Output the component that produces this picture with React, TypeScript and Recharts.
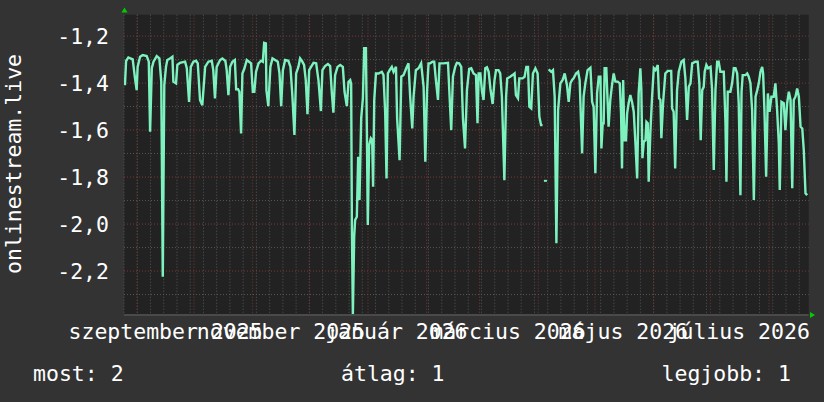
import React from "react";
import { LineChart, Line, XAxis, YAxis, CartesianGrid } from "recharts";

// days since Mon 25 Aug 2025
const days = [
  0.5, 1.1, 2.3, 4.6, 5.8, 6.7, 7.2, 8.5, 9.9, 12.0, 13.1, 13.8, 14.7, 15.6, 17.3, 18.7, 19.7, 20.5, 21.3, 22.2,
  22.9, 24.3, 25.6, 26.1, 27.5, 28.2, 29.6, 32.3, 33.2, 34.4, 35.3, 36.7, 38.1, 39.0, 40.2, 41.4, 42.9, 44.6, 46.4, 47.2,
  48.1, 49.0, 50.8, 52.0, 53.6, 54.3, 55.2, 56.1, 57.3, 58.6, 59.3, 60.3, 61.0, 61.9, 62.6, 63.7, 64.9, 66.1, 67.2, 68.1,
  68.9, 69.8, 71.1, 72.5, 73.4, 74.1, 75.0, 75.3, 76.3, 77.4, 78.5, 79.9, 81.3, 82.2, 83.1, 84.0, 85.2, 86.9, 88.0, 89.0,
  90.1, 91.0, 92.2, 93.1, 94.0, 95.2, 96.1, 97.0, 97.9, 98.9, 100.2, 101.6, 102.8, 104.1, 104.9, 106.3, 107.8, 109.0, 109.9, 110.7,
  111.6, 112.9, 114.3, 115.7, 116.6, 117.8, 118.7, 119.6, 120.1, 120.5, 121.0, 121.7, 122.2, 123.1, 123.8, 124.5, 125.4, 126.3, 127.0, 127.9,
  128.4, 128.9, 129.6, 130.5, 131.2, 131.7, 132.3, 133.2, 134.6, 136.3, 137.2, 138.1, 138.8, 139.5, 140.7, 141.6, 142.5, 143.8, 144.4, 145.7,
  146.6, 147.8, 149.2, 150.4, 151.3, 152.4, 153.1, 154.3, 155.7, 157.1, 158.4, 159.3, 160.2, 161.0, 161.9, 163.1, 164.0, 164.9, 166.0, 166.8,
  168.9, 171.3, 172.1, 173.0, 173.9, 175.1, 176.0, 177.2, 178.3, 179.2, 180.3, 181.3, 182.5, 183.6, 184.8, 186.1, 186.9, 187.5, 188.4, 189.3,
  190.1, 191.0, 191.9, 192.8, 193.7, 194.9, 195.9, 196.7, 198.0, 198.9, 199.8, 201.1, 202.0, 202.6, 204.2, 205.4, 206.5, 207.2, 208.3, 209.0,
  210.7, 211.8, 212.7, 213.6, 214.3, 215.3, 216.2, 217.5, 218.7, 219.6, 220.5, 221.3, 222.3, 222.8, 223.4, 224.5, 225.9, 226.8, 227.7, 228.6,
  229.5, 230.7, 231.9, 233.0, 234.2, 235.1, 236.0, 236.9, 237.7, 239.0, 240.1, 240.9, 242.2, 243.0, 243.9, 245.1, 246.6, 247.5, 248.3, 249.2,
  250.1, 251.0, 251.9, 252.4, 253.1, 253.6, 254.1, 255.0, 255.7, 256.2, 257.1, 258.0, 258.9, 259.8, 261.0, 262.1, 262.8, 263.3, 263.9, 264.6,
  265.4, 266.0, 266.8, 267.7, 268.6, 269.5, 270.4, 271.3, 272.1, 273.0, 273.5, 274.1, 274.8, 275.7, 276.2, 276.9, 277.4, 278.3, 279.2, 280.1,
  281.0, 282.2, 282.9, 283.6, 284.1, 285.0, 286.2, 287.5, 289.3, 289.8, 290.6, 291.4, 292.4, 293.3, 294.7, 295.9, 296.8, 297.7, 298.6, 299.5,
  300.4, 302.1, 303.3, 304.2, 304.9, 305.7, 306.5, 307.0, 307.9, 308.8, 310.1, 310.9, 311.8, 312.7, 313.6, 314.4, 315.3, 317.1, 318.0, 318.5,
  319.2, 320.6, 321.5, 322.4, 323.3, 324.2, 325.0, 325.9, 326.5, 327.1, 328.6, 329.5, 330.3, 331.2, 332.1, 333.0, 333.9, 334.8, 335.6, 336.5,
  337.4, 337.9, 338.6, 339.5, 340.4, 341.3, 342.3, 343.5, 344.4, 345.3, 346.2, 346.7, 347.6, 348.8, 349.7, 350.6, 351.5, 352.4, 353.3, 354.1,
  355.0, 355.9, 356.8, 357.7, 358.6, 359.4, 360.3, 361.2,
];

const values: (number | null)[] = [
  -1.409, -1.306, -1.291, -1.299, -1.379, -1.43, -1.331, -1.288, -1.281, -1.285, -1.309, -1.607, -1.337, -1.309, -1.285, -1.295, -1.394, -2.224, -1.409, -1.331,
  -1.302, -1.295, -1.288, -1.394, -1.401, -1.323, -1.314, -1.309, -1.337, -1.48, -1.331, -1.309, -1.305, -1.316, -1.472, -1.494, -1.331, -1.309, -1.305, -1.345,
  -1.465, -1.331, -1.302, -1.295, -1.306, -1.345, -1.451, -1.331, -1.309, -1.302, -1.426, -1.426, -1.437, -1.614, -1.359, -1.337, -1.302, -1.309, -1.316, -1.437,
  -1.437, -1.352, -1.316, -1.305, -1.309, -1.229, -1.231, -1.43, -1.498, -1.331, -1.295, -1.302, -1.309, -1.359, -1.498, -1.345, -1.302, -1.305, -1.331, -1.451,
  -1.621, -1.359, -1.331, -1.295, -1.305, -1.323, -1.387, -1.532, -1.345, -1.331, -1.314, -1.316, -1.387, -1.519, -1.345, -1.328, -1.319, -1.328, -1.444, -1.526,
  -1.366, -1.331, -1.323, -1.331, -1.437, -1.498, -1.394, -1.387, -1.404, -2.026, -2.385, -2.054, -1.983, -1.969, -1.714, -1.898, -1.55, -1.465, -1.252, -1.252,
  -1.6, -2.004, -1.664, -1.635, -1.643, -1.841, -1.472, -1.359, -1.359, -1.352, -1.366, -1.529, -1.806, -1.359, -1.342, -1.331, -1.352, -1.331, -1.55, -1.728,
  -1.373, -1.366, -1.337, -1.316, -1.458, -1.593, -1.458, -1.345, -1.337, -1.316, -1.416, -1.735, -1.437, -1.316, -1.316, -1.309, -1.309, -1.387, -1.472, -1.316,
  -1.316, -1.314, -1.451, -1.6, -1.373, -1.331, -1.314, -1.316, -1.331, -1.55, -1.678, -1.43, -1.34, -1.337, -1.359, -1.366, -1.571, -1.359, -1.359, -1.437,
  -1.472, -1.337, -1.333, -1.352, -1.423, -1.489, -1.387, -1.345, -1.345, -1.359, -1.458, -1.813, -1.458, -1.38, -1.373, -1.366, -1.359, -1.451, -1.465, -1.38,
  -1.38, -1.373, -1.331, -1.331, -1.501, -1.508, -1.359, -1.337, -1.359, -1.543, -1.579, -1.579, null, -1.816, null, -1.342, -1.352, -1.345, -1.458, -2.082,
  -1.515, -1.401, -1.387, -1.359, -1.409, -1.48, -1.401, -1.387, -1.38, -1.359, -1.352, -1.387, -1.699, -1.458, -1.401, -1.345, -1.335, -1.48, -1.501, -1.784,
  -1.444, -1.373, -1.373, -1.678, -1.571, -1.571, -1.337, -1.337, -1.48, -1.586, -1.472, -1.409, -1.359, -1.394, -1.394, -1.401, -1.529, -1.763, -1.387, -1.643,
  -1.643, -1.529, -1.486, -1.451, -1.48, -1.522, -1.657, -1.806, -1.444, -1.337, -1.423, -1.72, -1.65, -1.643, -1.565, -1.571, -1.82, -1.607, -1.458, -1.337,
  -1.345, -1.323, -1.465, -1.472, -1.635, -1.486, -1.359, -1.348, -1.348, -1.508, -1.522, -1.763, -1.43, -1.352, -1.309, -1.302, -1.38, -1.557, -1.416, -1.401,
  -1.316, -1.309, -1.309, -1.401, -1.643, -1.43, -1.416, -1.352, -1.323, -1.337, -1.331, -1.423, -1.77, -1.43, -1.309, -1.309, -1.352, -1.352, -1.571, -1.82,
  -1.437, -1.437, -1.401, -1.337, -1.337, -1.359, -1.486, -1.877, -1.437, -1.366, -1.366, -1.359, -1.373, -1.401, -1.515, -1.898, -1.458, -1.43, -1.401, -1.352,
  -1.331, -1.359, -1.515, -1.799, -1.444, -1.522, -1.458, -1.458, -1.401, -1.515, -1.657, -1.855, -1.48, -1.486, -1.6, -1.486, -1.437, -1.472, -1.848, -1.472,
  -1.458, -1.423, -1.458, -1.586, -1.593, -1.685, -1.869, -1.877,
];

const monthLabels = ["szeptember 2025", "november 2025", "január 2026", "március 2026", "május 2026", "július 2026"];
const monthLabelDays = [22, 83, 144, 203, 264, 325];
const monthStartDays = [7, 37, 68, 98, 129, 160, 188, 219, 249, 280, 310, 341];
const weekStartDays = Array.from({ length: 52 }, (_, i) => i * 7);

const yTicks = [-2.2, -2.0, -1.8, -1.6, -1.4, -1.2];
const yMinor = [-2.3, -2.1, -1.9, -1.7, -1.5, -1.3];

const legendItems = ["most: 2", "átlag: 1", "legjobb: 1"];
const legendX = [33, 341, 661.5];

const data = days.map((d, i) => ({ day: d, value: values[i] }));

const FONT = '"DejaVu Sans Mono", monospace';
const LINE = "#7df2be";

const XTick = (props: any) => {
  const i = monthLabelDays.indexOf(props.payload.value);
  return (
    <text x={props.x} y={props.y} dy={15.5} textAnchor="middle" fill="#fff" fontSize={21.5} fontFamily={FONT}>
      {monthLabels[i]}
    </text>
  );
};

const YTick = (props: any) => (
  <text x={props.x} y={props.y} dy="0.355em" textAnchor="end" fill="#fff" fontSize={21.5} fontFamily={FONT}>
    {props.payload.value.toFixed(1).replace(".", ",")}
  </text>
);

const soloDot = (p: any) => {
  const i = p.index;
  const lone = values[i] != null && values[i - 1] == null && values[i + 1] == null && i > 0;
  if (!lone) return <g key={`d${i}`} />;
  return <rect key={`d${i}`} x={p.cx - 1.5} y={p.cy - 1} width={3} height={2} fill={LINE} />;
};

export default function App() {
  return (
    <div style={{ position: "absolute", left: 0, top: 0, width: 824, height: 402, background: "#333333" }}>
      <LineChart width={824} height={402} data={data} margin={{ top: 14.7, right: 15.3, bottom: 57, left: 64 }}>
        <CartesianGrid
          stroke="#575757"
          strokeDasharray="1 2"
          fill="#222222"
          fillOpacity={1}
          verticalValues={weekStartDays}
          horizontalValues={yMinor}
        />
        <CartesianGrid
          stroke="#7a3838"
          strokeDasharray="1 2"
          verticalValues={monthStartDays}
          horizontalValues={yTicks}
        />
        <XAxis
          type="number"
          dataKey="day"
          domain={[0, 362]}
          ticks={monthLabelDays}
          interval={0}
          allowDataOverflow
          height={30}
          tickSize={0}
          tickMargin={8}
          tick={<XTick />}
          tickLine={false}
          axisLine={{ stroke: "#4a4a4a", strokeWidth: 2 }}
        />
        <YAxis
          type="number"
          domain={[-2.387, -1.109]}
          ticks={yTicks}
          interval={0}
          allowDataOverflow
          width={60}
          tickSize={0}
          tickMargin={15}
          tick={<YTick />}
          tickLine={false}
          axisLine={false}
        />
        <Line
          type="linear"
          dataKey="value"
          stroke={LINE}
          strokeWidth={2.4}
          dot={soloDot}
          activeDot={false}
          connectNulls={false}
          isAnimationActive={false}
        />
      </LineChart>
      <svg width={824} height={402} style={{ position: "absolute", left: 0, top: 0, pointerEvents: "none" }}>
        <polygon points="121.5,12.5 127.5,12.5 124.5,7.5" fill="#00cc00" />
        <polygon points="810,312 810,318 815,315" fill="#00cc00" />
        <text
          transform="translate(13,164) rotate(-90)"
          textAnchor="middle"
          dominantBaseline="central"
          fill="#fff"
          fontSize={21.5}
          fontFamily={FONT}
        >
          onlinestream.live
        </text>
        {legendItems.map((t, i) => (
          <text key={t} x={legendX[i]} y={381} fill="#fff" fontSize={21.5} fontFamily={FONT}>
            {t}
          </text>
        ))}
      </svg>
    </div>
  );
}
